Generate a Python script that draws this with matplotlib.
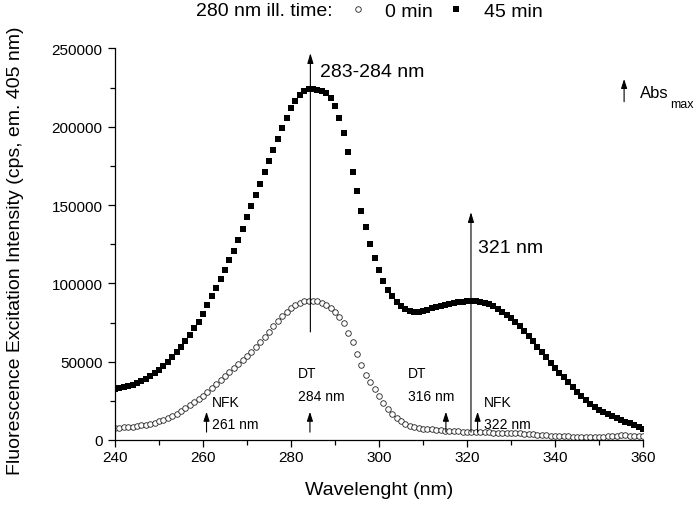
import matplotlib
matplotlib.use("Agg")
import matplotlib.pyplot as plt
from matplotlib.ticker import MultipleLocator

plt.rcParams['font.family'] = ['Liberation Sans', 'DejaVu Sans']

# wavelength grid (1 nm steps)
wavelength = list(range(240, 361))

# excitation intensity (cps), 0 min illumination
ill_0min = [
    7500, 7700, 8000, 8300, 8600, 9000, 9400, 9800, 10300, 11000,
    11900, 12900, 14000, 15300, 16800, 18400, 20200, 22100, 24000, 26000,
    28300, 30700, 33200, 35700, 38300, 40800, 43300, 45800, 48300, 50900,
    53600, 56400, 59300, 62400, 65600, 69000, 72600, 76000, 79200, 82000,
    84400, 86200, 87600, 88500, 89000, 89000, 88500, 87500, 86000, 84000,
    81800, 78800, 75000, 68500, 62300, 55000, 48000, 41800, 36800, 32500,
    28000, 23600, 19900, 16800, 14200, 12100, 10500, 9200, 8300, 7700,
    7300, 6900, 6700, 6400, 6200, 6000, 5900, 5700, 5600, 5400,
    5300, 5200, 5100, 5000, 4900, 4800, 4700, 4600, 4500, 4400,
    4300, 4300, 4200, 4000, 3800, 3600, 3400, 3200, 3000, 2800,
    2600, 2500, 2400, 2300, 2200, 2100, 2000, 1900, 1800, 1800,
    1900, 2100, 2400, 2600, 2800, 2900, 2900, 2800, 2800, 2800,
    2800,
]

# excitation intensity (cps), 45 min illumination
ill_45min = [
    32600, 33100, 33700, 34400, 35300, 36400, 37700, 39200, 40900, 42900,
    45000, 47400, 50000, 52900, 56000, 59400, 63100, 67000, 71200, 75600,
    80600, 86000, 91800, 97300, 102800, 108400, 114900, 120900, 127900, 134500,
    142200, 149600, 156600, 163700, 171300, 178400, 185400, 192000, 199000, 205600,
    211800, 216300, 220300, 222700, 224000, 224100, 223700, 222900, 221400, 218400,
    213300, 205700, 196100, 184100, 171400, 158700, 146200, 135700, 125100, 116100,
    108400, 101500, 96000, 91800, 88300, 85800, 83700, 82200, 81500, 81700,
    82400, 83200, 84000, 84800, 85600, 86300, 86900, 87500, 88000, 88300,
    88600, 88700, 88500, 88100, 87500, 86600, 85300, 83400, 81600, 79700,
    77900, 75500, 73000, 69600, 66300, 62900, 59600, 56200, 52800, 49400,
    45900, 43000, 40000, 37000, 34000, 30900, 28200, 25600, 23200, 21100,
    19400, 17700, 16300, 15000, 13900, 12800, 11700, 10600, 9400, 8200,
    7000,
]

# absorption maxima: (x, y_start, y_tip)
abs_big = [(284.4, 69000, 247000), (320.9, 5000, 145500)]
abs_big_labels = ["283-284 nm", "321 nm"]
abs_big_label_pos = [(286.6, 235000), (322.4, 123000)]

# small arrows: position, label text and where the label sits
small_x = [260.8, 284.3, 315.2, 322.4]
small_top = ["NFK", "DT", "DT", "NFK"]
small_bottom = ["261 nm", "284 nm", "316 nm", "322 nm"]
small_text_x = [262.0, 281.5, 306.5, 323.9]
small_top_y = [24300, 43000, 43000, 24300]
small_bottom_y = [10000, 28000, 28000, 10000]


fig = plt.figure(figsize=(7, 5.06), dpi=100)
ax = fig.add_axes([0.1643, 0.1285, 0.7543, 0.7737])

l0, = ax.plot(wavelength, ill_0min, linestyle='none', marker='o', markersize=4.0,
              markerfacecolor='white', markeredgecolor='#222222', markeredgewidth=0.6)
l45, = ax.plot(wavelength, ill_45min, linestyle='none', marker='s', markersize=3.8,
               markerfacecolor='black', markeredgecolor='black', markeredgewidth=0)

big_arrow = dict(arrowstyle='-|>,head_length=0.6,head_width=0.18', color='black',
                 lw=0.8, shrinkA=0, shrinkB=0, mutation_scale=10)
small_arrow = dict(arrowstyle='-|>,head_length=0.55,head_width=0.18', color='black',
                   lw=0.8, shrinkA=0, shrinkB=0, mutation_scale=10)

for (x, y0, y1), lab, (tx, ty) in zip(abs_big, abs_big_labels, abs_big_label_pos):
    ax.annotate('', xy=(x, y1), xytext=(x, y0), arrowprops=big_arrow)
    ax.text(tx, ty, lab, fontsize=14, ha='left', va='center')

for i, x in enumerate(small_x):
    ax.annotate('', xy=(x, 18000), xytext=(x, 5000), arrowprops=small_arrow)
    ax.text(small_text_x[i], small_top_y[i], small_top[i], fontsize=10,
            ha='left', va='center')
    ax.text(small_text_x[i], small_bottom_y[i], small_bottom[i], fontsize=10,
            ha='left', va='center')

# Abs max key
ax.annotate('', xy=(355.7, 230500), xytext=(355.7, 216000), arrowprops=small_arrow)
ax.text(359.3, 222200, "Abs", fontsize=12, ha='left', va='center')
ax.text(366.1, 214800, "max", fontsize=9, ha='left', va='center', clip_on=False)

ax.set_xlim(240, 360)
ax.set_ylim(0, 250000)
ax.xaxis.set_major_locator(MultipleLocator(20))
ax.xaxis.set_minor_locator(MultipleLocator(10))
ax.yaxis.set_major_locator(MultipleLocator(50000))
ax.yaxis.set_minor_locator(MultipleLocator(25000))
ax.tick_params(which='both', direction='out', width=0.9, labelsize=11)
ax.tick_params(which='major', length=5)
ax.tick_params(which='minor', length=3.5)
ax.tick_params(axis='x', pad=2)
ax.tick_params(axis='y', pad=4)
for s in ['top', 'right']:
    ax.spines[s].set_visible(False)
for s in ['left', 'bottom']:
    ax.spines[s].set_linewidth(0.9)

ax.set_xlabel("Wavelenght (nm)", fontsize=14)
ax.set_ylabel("Fluorescence Excitation Intensity (cps, em. 405 nm)", fontsize=14)
ax.xaxis.set_label_coords(0.5, -0.105)
ax.yaxis.set_label_coords(-0.172, 0.485)

fig.text(196 / 700, 1 - 12 / 506, "280 nm ill. time:", fontsize=14, ha='left', va='center')
fig.legend([l0, l45], ["0 min", "45 min"], loc='center left',
           bbox_to_anchor=(348.3 / 700, 1 - 12 / 506), ncol=2, frameon=False,
           fontsize=14, handlelength=1.0, handletextpad=0.9, columnspacing=0.7,
           borderpad=0, borderaxespad=0)

fig.savefig("out.png", dpi=100)
